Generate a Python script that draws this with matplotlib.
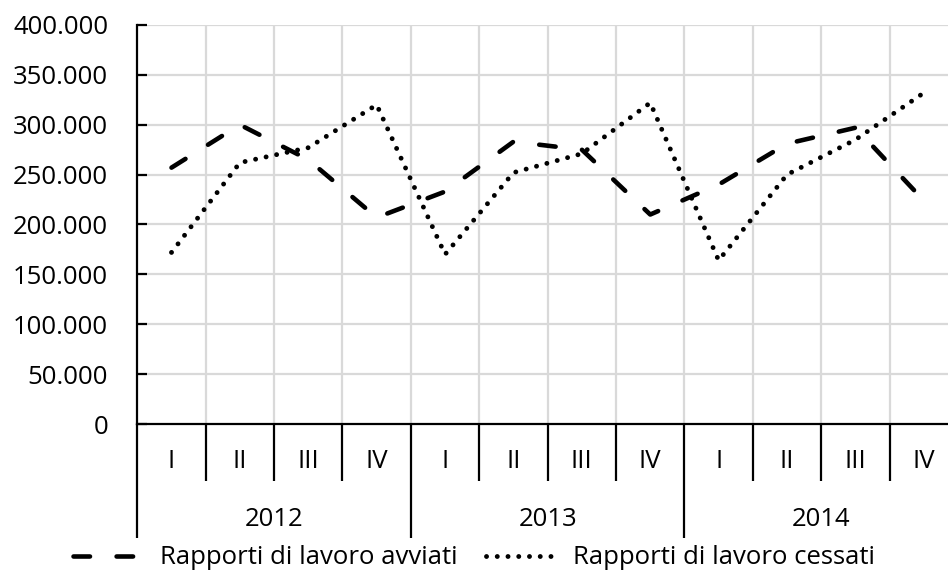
import matplotlib
matplotlib.use('Agg')
import matplotlib.pyplot as plt
from matplotlib.transforms import offset_copy
from matplotlib.lines import Line2D

# Dati
anni = ['2012', '2013', '2014']
trimestri = ['I', 'II', 'III', 'IV']
avviati = [257000, 300000, 265000, 207000, 233000, 283000, 275000, 210000,
           240000, 281000, 297000, 224000]
cessati = [172000, 262000, 277000, 320000, 170000, 252000, 271000, 322000,
           164000, 250000, 285000, 332000]
y_ticks = [0, 50000, 100000, 150000, 200000, 250000, 300000, 350000, 400000]

plt.rcParams['font.family'] = ['Open Sans', 'DejaVu Sans']
FS = 18.5
LW = 3.3

fig = plt.figure(figsize=(9.48, 5.76), dpi=100)
ax = fig.add_axes([137.3 / 948, 1 - 424 / 576, (958 - 137.3) / 948, 399 / 576])

dash = (0, (3.6, 5.8))
dot = (0, (0.01, 2.2))

n = len(avviati)
x = list(range(n))
ax.plot(x, avviati, color='black', lw=LW, linestyle=dash,
        dash_capstyle='round', solid_capstyle='round', zorder=3)
ax.plot(x, cessati, color='black', lw=3.5, linestyle=dot,
        dash_capstyle='round', zorder=3)

ax.set_xlim(-0.5, n - 0.5)
ax.set_ylim(0, 400000)
ax.set_yticks(y_ticks)
ax.set_yticklabels([f'{v:,}'.replace(',', '.') for v in y_ticks], fontsize=FS)
ax.tick_params(axis='y', direction='in', length=7, width=1.6, pad=21)
ax.set_xticks([])

# griglia
for v in y_ticks[1:]:
    ax.axhline(v, color='#d9d9d9', lw=1.6, zorder=1)
for k in range(1, n):
    ax.axvline(k - 0.5, color='#d9d9d9', lw=1.6, zorder=1)

for s in ['top', 'right']:
    ax.spines[s].set_visible(False)
ax.spines['left'].set_linewidth(1.6)
ax.spines['bottom'].set_linewidth(1.6)
ax.spines['bottom'].set_zorder(4)

# asse delle categorie su due livelli
tr = ax.get_xaxis_transform()
tr_q = offset_copy(tr, fig=fig, x=0, y=-38, units='dots')
tr_y = offset_copy(tr, fig=fig, x=0, y=-96, units='dots')
for i in range(n):
    ax.text(i, 0, trimestri[i % 4], transform=tr_q, ha='center', va='center', fontsize=FS)
for j, a in enumerate(anni):
    ax.text(j * 4 + 1.5, 0, a, transform=tr_y, ha='center', va='center', fontsize=FS)

ax_h = ax.get_window_extent().height
for k in range(0, n + 1):
    b = k - 0.5
    depth = 114 if k % 4 == 0 else 57
    ax.plot([b, b], [0, -depth / ax_h], transform=tr, color='black', lw=1.6,
            clip_on=False, solid_capstyle='butt')

handles = [Line2D([], [], color='black', lw=LW, linestyle=dash, dash_capstyle='round'),
           Line2D([], [], color='black', lw=3.5, linestyle=dot, dash_capstyle='round')]
fig.legend(handles, ['Rapporti di lavoro avviati', 'Rapporti di lavoro cessati'],
           loc='center', bbox_to_anchor=(0.5, 1 - 558 / 576), ncol=2, frameon=False,
           fontsize=FS, handlelength=2.7, handletextpad=0.7, columnspacing=1.1,
           borderpad=0)

fig.savefig('out.png', dpi=100)
